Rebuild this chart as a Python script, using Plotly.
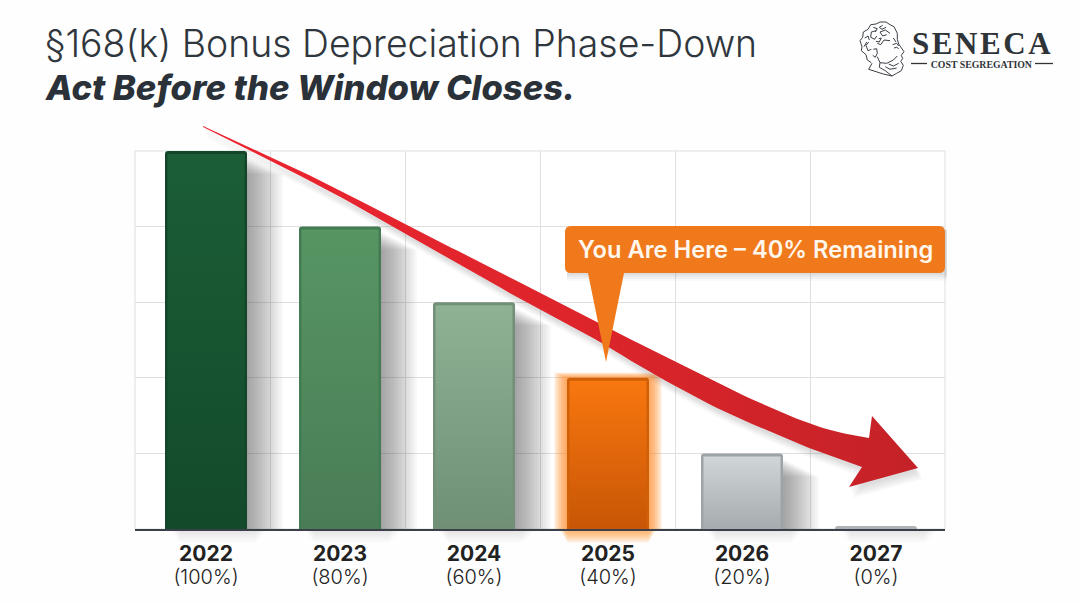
import plotly.graph_objects as go

W, H = 1080, 603

# chart values
years = ["2022", "2023", "2024", "2025", "2026", "2027"]
remaining = [100, 80, 60, 40, 20, 0]
# the 0% bar still shows as a thin sliver in the picture
bar_heights = [100, 80, 60, 40, 20, 0.8]

border_colors = ["#14472a", "#437c52", "#728f77", "#cf5f08", "#9da4a7", "#aeb2b4"]
top_colors = ["#1b5e37", "#579563", "#8fb194", "#f8770f", "#d0d5d7", "#aeb2b4"]
bottom_colors = ["#134a2a", "#4a7d56", "#6f9075", "#c85606", "#a6abaf", "#aeb2b4"]

# plot area in page pixels
left, right, top, base = 135, 945, 151, 529
x_min, x_max = -0.53, 5.515
bar_w = 0.612
px_x = (x_max - x_min) / (right - left)
px_y = 100 / (base - top)


def nx(p):
    return p / W


def ny(p):
    return 1 - p / H


def smooth(pts, steps=8):
    # catmull-rom through the outline points
    out = []
    for i in range(len(pts) - 1):
        p0 = pts[max(i - 1, 0)]
        p1 = pts[i]
        p2 = pts[i + 1]
        p3 = pts[min(i + 2, len(pts) - 1)]
        for s in range(steps):
            t = s / steps
            out.append(tuple(
                0.5 * (2 * p1[k] + (p2[k] - p0[k]) * t + (2 * p0[k] - 5 * p1[k] + 4 * p2[k] - p3[k]) * t * t
                       + (3 * p1[k] - p0[k] - 3 * p2[k] + p3[k]) * t ** 3)
                for k in (0, 1)))
    out.append(pts[-1])
    return out


fig = go.Figure()

fig.add_trace(go.Bar(
    x=list(range(len(years))), y=bar_heights, width=bar_w,
    marker=dict(color=border_colors, line=dict(width=0)),
    hoverinfo="skip", showlegend=False,
))

# inner gradient of each bar, inset so the bar colour reads as a border
for i, v in enumerate(bar_heights):
    a = i - bar_w / 2 + 2.5 * px_x
    b = i + bar_w / 2 - 2.5 * px_x
    t = max(v - 3 * px_y, 0)
    fig.add_trace(go.Scatter(
        x=[a, b, b, a, a], y=[0, 0, t, t, 0], mode="lines", fill="toself",
        line=dict(width=0),
        fillgradient=dict(type="vertical", colorscale=[[0, bottom_colors[i]], [1, top_colors[i]]]),
        hoverinfo="skip", showlegend=False,
    ))

shapes = []

# frame of the grid, the axis grid clips it at the edges
shapes.append(dict(type="rect", xref="paper", yref="paper", layer="below",
                   x0=nx(left), x1=nx(right), y0=ny(base), y1=ny(top),
                   fillcolor="#ffffff", line=dict(color="#dfdfdf", width=1)))

# soft shadows and the orange glow
for i, v in enumerate(bar_heights):
    edge_l = i - bar_w / 2
    edge_r = i + bar_w / 2
    if years[i] == "2025":
        for k in range(1, 14):
            shapes.append(dict(type="rect", xref="x", yref="y", layer="between",
                               x0=edge_l - k * px_x, x1=edge_r + k * px_x, y0=0, y1=v + k * px_y * 0.4,
                               fillcolor="rgba(250,135,35,0.085)", line_width=0))
        continue
    if v < 5:
        continue
    for k in range(2, 38, 2):
        shapes.append(dict(type="rect", xref="x", yref="y", layer="between",
                           x0=edge_r - 2 * px_x, x1=edge_r + k * px_x, y0=0, y1=v - (5 + k * 0.5) * px_y,
                           fillcolor="rgba(60,60,60,0.032)", line_width=0))

# shadow falling below the baseline
for i, v in enumerate(bar_heights):
    p0 = left + (i - bar_w / 2 - x_min) / px_x
    p1 = left + (i + bar_w / 2 - x_min) / px_x
    glow = years[i] == "2025"
    for k in range(1, 15):
        shapes.append(dict(type="rect", xref="paper", yref="paper", layer="below",
                           x0=nx(p0 + (-8 + k * 0.6 if glow else 4 + k * 0.8)),
                           x1=nx(p1 + (8 - k * 0.6 if glow else 22 - k)),
                           y0=ny(base), y1=ny(base + k),
                           fillcolor="rgba(250,135,35,0.07)" if glow else "rgba(70,70,70,0.012)",
                           line_width=0))

# red arrow, drawn on a page-pixel subplot
arrow_upper = [(203, 126), (273, 158), (333, 187), (420, 232), (480, 262), (540, 293), (600, 324),
               (650, 349), (717, 383), (783, 413), (830, 430), (869, 438)]
head = [(872, 416), (918, 468), (849, 487)]
arrow_lower = [(862, 467), (817, 451), (783, 437), (717, 408), (650, 372), (600, 342), (540, 310),
               (480, 276), (420, 242), (333, 193), (273, 162), (203, 127)]
outline = smooth(arrow_upper) + head + smooth(arrow_lower)
ax = [p[0] for p in outline]
ay = [p[1] for p in outline]

for off in [(1, 3), (2, 5), (3, 7), (4, 9), (4, 11)]:
    fig.add_trace(go.Scatter(
        x=[p + off[0] for p in ax], y=[p + off[1] for p in ay], xaxis="x2", yaxis="y2",
        mode="lines", fill="toself", line=dict(width=0), fillcolor="rgba(70,60,60,0.035)",
        hoverinfo="skip", showlegend=False,
    ))
fig.add_trace(go.Scatter(
    x=ax, y=ay, xaxis="x2", yaxis="y2", mode="lines", fill="toself", line=dict(width=0),
    fillgradient=dict(type="horizontal", colorscale=[[0, "#ec2430"], [0.5, "#de252b"], [1, "#c42228"]]),
    hoverinfo="skip", showlegend=False,
))

# callout
callout = ("M 571 226 L 939 226 Q 945 226 945 232 L 945 267 Q 945 273 939 273 "
           "L 624 273 L 606 362 L 588 273 L 571 273 Q 565 273 565 267 L 565 232 Q 565 226 571 226 Z")
for dy, a in [(8, 0.03), (6, 0.04), (4, 0.05), (2, 0.06)]:
    shapes.append(dict(type="rect", xref="x2", yref="y2", layer="above",
                       x0=567, x1=947, y0=230, y1=273 + dy,
                       fillcolor=f"rgba(60,60,60,{a})", line_width=0))
shapes.append(dict(type="path", xref="x2", yref="y2", layer="above", path=callout,
                   fillcolor="#f0791c", line_width=0))


# logo head, coordinates from the logo crop (3x around 840,10)
def lg(pts):
    out = []
    for n, (x, y) in enumerate(pts):
        out.append(f"{'M' if n == 0 else 'L'} {840 + x / 3:.1f} {10 + y / 3:.1f}")
    return " ".join(out)


logo_lines = [
    # hair outline
    [(172, 88), (172, 70), (162, 50), (150, 44), (138, 36), (120, 36), (108, 42), (92, 44), (84, 58),
     (70, 66), (68, 82), (60, 92), (66, 110), (64, 122), (78, 134), (82, 150), (94, 158)],
    # face
    [(172, 88), (176, 102), (192, 125), (184, 136), (188, 146), (182, 154), (190, 166), (184, 182),
     (170, 190), (156, 198), (130, 192), (86, 178), (96, 160)],
    # beard and cheek
    [(112, 140), (120, 158), (140, 160), (160, 150), (172, 138)],
    [(120, 158), (118, 172), (136, 182), (156, 198)],
    [(136, 170), (150, 178), (170, 174)],
    [(146, 162), (160, 168), (176, 160)],
    # ear
    [(100, 118), (110, 116), (112, 130), (106, 142), (98, 136)],
    # hair curls
    [(150, 70), (136, 60), (120, 66), (128, 78), (140, 74)],
    [(108, 62), (94, 66), (92, 82), (104, 88), (110, 78)],
    [(150, 92), (132, 90), (122, 104), (112, 100)],
    [(86, 96), (78, 106), (84, 122), (94, 118)],
    [(160, 84), (168, 96)],
    [(128, 46), (118, 52), (126, 58), (138, 52)],
    [(100, 52), (112, 56), (106, 66)],
    [(74, 84), (84, 78), (88, 90)],
    [(72, 110), (80, 96)],
    [(116, 86), (124, 84), (118, 96), (108, 94)],
    # eye and brow
    [(158, 104), (170, 100), (176, 108)],
    [(162, 114), (170, 112), (176, 116)],
]
for pts in logo_lines:
    shapes.append(dict(type="path", xref="x2", yref="y2", layer="above", path=lg(pts),
                       line=dict(color="#3a3f45", width=1), fillcolor="rgba(0,0,0,0)"))
# rules either side of COST SEGREGATION
for x0, x1 in [(911, 927), (1035, 1053)]:
    shapes.append(dict(type="line", xref="x2", yref="y2", layer="above", x0=x0, x1=x1, y0=63.5, y1=63.5,
                       line=dict(color="#2f3439", width=1.3)))

annotations = [
    dict(text="§168(k) Bonus Depreciation Phase-Down", x=nx(43), y=ny(43), xanchor="left", yanchor="middle",
         font=dict(family="Inter", size=37.4, color="#2f363d", weight=300)),
    dict(text="Act Before the Window Closes.", x=nx(43), y=ny(87), xanchor="left", yanchor="middle",
         font=dict(family="Inter", size=34.6, color="#2a3138", weight=800, style="italic")),
    dict(text="You Are Here – 40% Remaining", x=nx(755), y=ny(249), xanchor="center", yanchor="middle",
         font=dict(family="Inter", size=23.7, color="#fff6ec", weight=600)),
    dict(text='<b style="font-size:31px">S\u200aE\u200aN\u200aE\u200aC\u200aA</b><br>'
              '<b style="font-size:9.8px">COST SEGREGATION</b>',
         x=nx(981), y=ny(48), xanchor="center", yanchor="middle",
         font=dict(family="Liberation Serif", size=10.5, color="#2f3439")),
]
for a in annotations:
    a.update(xref="paper", yref="paper", showarrow=False)

tick_text = [f'<b style="font-size:21px">{y}</b><br><span style="font-size:20px">({r}%)</span>'
             for y, r in zip(years, remaining)]
edges = [x_min + (x_max - x_min) * k / 6 for k in range(7)]

fig.update_layout(
    width=W, height=H, margin=dict(l=0, r=0, t=0, b=0), autosize=False,
    paper_bgcolor="#fefefe", plot_bgcolor="rgba(0,0,0,0)", barcornerradius=3,
    showlegend=False, shapes=shapes, annotations=annotations,
    font=dict(family="Inter", color="#2a2a2a"),
    xaxis=dict(
        domain=[nx(left), nx(right)], range=[x_min, x_max], showgrid=False, zeroline=False,
        tickmode="array", tickvals=list(range(6)), ticktext=tick_text, ticks="", ticklen=0,
        ticklabelstandoff=8,
        tickfont=dict(family="Inter", size=18, color="#222222", weight=300),
        showline=True, linecolor="#3b3f4a", linewidth=2,
        minor=dict(tickmode="array", tickvals=edges, showgrid=True, gridcolor="#dfdfdf", gridwidth=1, ticks=""),
        fixedrange=True,
    ),
    yaxis=dict(
        domain=[ny(base), ny(top)], range=[0, 100], dtick=20, showgrid=True, gridcolor="#dfdfdf", gridwidth=1,
        zeroline=False, showticklabels=False, ticks="", fixedrange=True,
    ),
    xaxis2=dict(domain=[0, 1], range=[0, W], visible=False, anchor="y2", fixedrange=True),
    yaxis2=dict(domain=[0, 1], range=[H, 0], visible=False, anchor="x2", fixedrange=True),
)

fig.write_html("out.html", config=dict(displayModeBar=False), post_script="document.body.style.margin='0';")
